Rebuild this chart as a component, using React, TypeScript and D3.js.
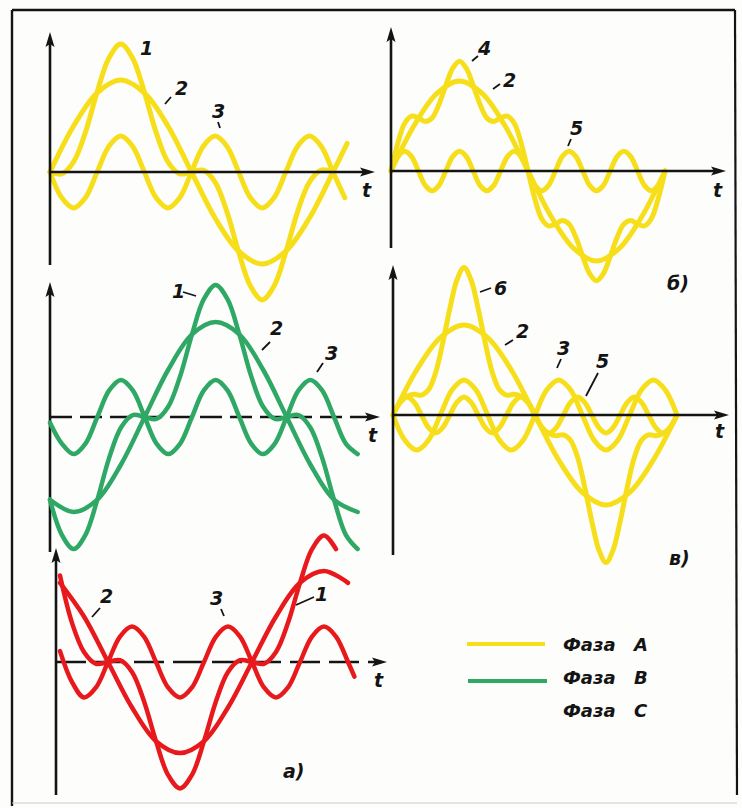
import * as d3 from "d3";

type Pt = [number, number];

const YELLOW = "#f6df1a";
const GREEN = "#2fa865";
const RED = "#e8191c";
const INK = "#141414";

// t in degrees, value in units of the fundamental's amplitude

// а) phase A (top left)
const A_SUM: Pt[] = [
  [0, 0], [15, -0.02], [30, 0.11], [45, 0.43], [60, 0.87], [75, 1.24], [90, 1.39],
  [105, 1.24], [120, 0.87], [135, 0.43], [150, 0.11], [165, -0.02], [180, 0],
  [195, 0.02], [210, -0.11], [225, -0.43], [240, -0.87], [255, -1.24], [270, -1.39],
  [285, -1.24], [300, -0.87], [315, -0.43], [330, -0.11], [345, 0.02], [360, 0],
];
const A_FUND: Pt[] = [
  [0, 0], [30, 0.5], [60, 0.86], [90, 1], [120, 0.86], [150, 0.5], [180, 0],
  [210, -0.5], [240, -0.86], [270, -1], [300, -0.86], [330, -0.5], [360, 0], [378, 0.31],
];
const A_H3: Pt[] = [
  [0, 0], [15, -0.28], [30, -0.39], [45, -0.28], [60, 0], [75, 0.28], [90, 0.39],
  [105, 0.28], [120, 0], [135, -0.28], [150, -0.39], [165, -0.28], [180, 0],
  [195, 0.28], [210, 0.39], [225, 0.28], [240, 0], [255, -0.28], [270, -0.39],
  [285, -0.28], [300, 0], [315, 0.28], [330, 0.39], [345, 0.28], [360, 0], [375, -0.28],
];

// б) fundamental + 5th (top right)
const B_FUND: Pt[] = [
  [0, 0], [30, 0.5], [60, 0.86], [90, 1], [120, 0.86], [150, 0.5], [180, 0],
  [210, -0.5], [240, -0.86], [270, -1], [300, -0.86], [330, -0.5], [360, 0],
];
const B_SUM: Pt[] = [
  [0, 0], [9, 0.31], [18, 0.53], [27, 0.61], [36, 0.59], [45, 0.55], [54, 0.59],
  [63, 0.74], [72, 0.95], [81, 1.14], [90, 1.22], [99, 1.14], [108, 0.95], [117, 0.74],
  [126, 0.59], [135, 0.55], [144, 0.59], [153, 0.61], [162, 0.53], [171, 0.31], [180, 0],
  [189, -0.31], [198, -0.53], [207, -0.61], [216, -0.59], [225, -0.55], [234, -0.59],
  [243, -0.74], [252, -0.95], [261, -1.14], [270, -1.22], [279, -1.14], [288, -0.95],
  [297, -0.74], [306, -0.59], [315, -0.55], [324, -0.59], [333, -0.61], [342, -0.53],
  [351, -0.31], [360, 0],
];
const B_H5: Pt[] = [
  [0, 0], [9, 0.16], [18, 0.22], [27, 0.16], [36, 0], [45, -0.16], [54, -0.22], [63, -0.16],
  [72, 0], [81, 0.16], [90, 0.22], [99, 0.16], [108, 0], [117, -0.16], [126, -0.22], [135, -0.16],
  [144, 0], [153, 0.16], [162, 0.22], [171, 0.16], [180, 0], [189, -0.16], [198, -0.22], [207, -0.16],
  [216, 0], [225, 0.16], [234, 0.22], [243, 0.16], [252, 0], [261, -0.16], [270, -0.22], [279, -0.16],
  [288, 0], [297, 0.16], [306, 0.22], [315, 0.16], [324, 0], [333, -0.16], [342, -0.22], [351, -0.16],
  [360, 0],
];

// в) fundamental + 3rd + 5th (middle right)
const V_FUND: Pt[] = B_FUND;
const V_H3: Pt[] = A_H3.slice(0, 25);
const V_H5: Pt[] = [
  [0, 0], [9, 0.14], [18, 0.2], [27, 0.14], [36, 0], [45, -0.14], [54, -0.2], [63, -0.14],
  [72, 0], [81, 0.14], [90, 0.2], [99, 0.14], [108, 0], [117, -0.14], [126, -0.2], [135, -0.14],
  [144, 0], [153, 0.14], [162, 0.2], [171, 0.14], [180, 0], [189, -0.14], [198, -0.2], [207, -0.14],
  [216, 0], [225, 0.14], [234, 0.2], [243, 0.14], [252, 0], [261, -0.14], [270, -0.2], [279, -0.14],
  [288, 0], [297, 0.14], [306, 0.2], [315, 0.14], [324, 0], [333, -0.14], [342, -0.2], [351, -0.14],
  [360, 0],
];
const V_SUM: Pt[] = [
  [0, 0], [9, 0.14], [18, 0.21], [27, 0.23], [36, 0.22], [45, 0.28], [54, 0.47],
  [63, 0.8], [72, 1.18], [81, 1.5], [90, 1.64], [99, 1.5], [108, 1.18], [117, 0.8],
  [126, 0.47], [135, 0.28], [144, 0.22], [153, 0.23], [162, 0.21], [171, 0.14], [180, 0],
  [189, -0.14], [198, -0.21], [207, -0.23], [216, -0.22], [225, -0.28], [234, -0.47],
  [243, -0.8], [252, -1.18], [261, -1.5], [270, -1.64], [279, -1.5], [288, -1.18],
  [297, -0.8], [306, -0.47], [315, -0.28], [324, -0.22], [333, -0.23], [342, -0.21],
  [351, -0.14], [360, 0],
];

// а) phase B (middle left)
const G_SUM: Pt[] = [
  [0, -0.87], [15, -1.24], [30, -1.39], [45, -1.24], [60, -0.87], [75, -0.43], [90, -0.11],
  [105, 0.02], [120, 0], [135, -0.02], [150, 0.11], [165, 0.43], [180, 0.87], [195, 1.24],
  [210, 1.39], [225, 1.24], [240, 0.87], [255, 0.43], [270, 0.11], [285, -0.02], [300, 0],
  [315, 0.02], [330, -0.11], [345, -0.43], [360, -0.87], [375, -1.24], [390, -1.39],
];
const G_FUND: Pt[] = [
  [0, -0.87], [30, -1], [60, -0.87], [90, -0.5], [120, 0], [150, 0.5], [180, 0.87],
  [210, 1], [240, 0.87], [270, 0.5], [300, 0], [330, -0.5], [360, -0.87], [390, -1],
];
const G_H3: Pt[] = [
  [0, -0.06], [15, -0.28], [30, -0.39], [45, -0.28], [60, 0], [75, 0.28], [90, 0.39],
  [105, 0.28], [120, 0], [135, -0.28], [150, -0.39], [165, -0.28], [180, 0],
  [195, 0.28], [210, 0.39], [225, 0.28], [240, 0], [255, -0.28], [270, -0.39],
  [285, -0.28], [300, 0], [315, 0.28], [330, 0.39], [345, 0.28], [360, 0],
  [375, -0.28], [390, -0.39],
];

// а) phase C (bottom left)
const R_SUM: Pt[] = [
  [0, 0.95], [15, 0.43], [30, 0.11], [45, -0.02], [60, 0], [75, 0.02], [90, -0.11],
  [105, -0.43], [120, -0.87], [135, -1.24], [150, -1.39], [165, -1.24], [180, -0.87],
  [195, -0.43], [210, -0.11], [225, 0.02], [240, 0], [255, -0.02], [270, 0.11],
  [285, 0.43], [300, 0.87], [315, 1.24], [330, 1.39], [345, 1.24],
];
const R_FUND: Pt[] = [
  [0, 0.87], [30, 0.5], [60, 0], [90, -0.5], [120, -0.87], [150, -1], [180, -0.87],
  [210, -0.5], [240, 0], [270, 0.5], [300, 0.87], [330, 1], [360, 0.87],
];
const R_H3: Pt[] = [
  [0, 0.12], [15, -0.22], [30, -0.39], [45, -0.28], [60, 0], [75, 0.28], [90, 0.39],
  [105, 0.28], [120, 0], [135, -0.28], [150, -0.39], [165, -0.28], [180, 0],
  [195, 0.28], [210, 0.39], [225, 0.28], [240, 0], [255, -0.28], [270, -0.39],
  [285, -0.28], [300, 0], [315, 0.28], [330, 0.39], [345, 0.28], [360, 0], [368, -0.16],
];

const LEGEND = ["Фаза", "Фаза", "Фаза"];
const LEGEND_KEYS = ["A", "B", "C"];

type Label = { text: string; x: number; y: number; tick?: [number, number, number, number] };

const FONT = "'DejaVu Sans', sans-serif";

const Waves = ({ x0, x360, y0, amp, color, width, curves }: {
  x0: number; x360: number; y0: number; amp: number; color: string; width: number; curves: Pt[][];
}) => {
  const x = d3.scaleLinear().domain([0, 360]).range([x0, x360]);
  const y = d3.scaleLinear().domain([-1, 1]).range([y0 + amp, y0 - amp]);
  const line = d3
    .line<Pt>()
    .x((d) => x(d[0]))
    .y((d) => y(d[1]))
    .curve(d3.curveCatmullRom.alpha(0.5));
  return (
    <g fill="none" stroke={color} strokeWidth={width} strokeLinecap="round" strokeLinejoin="round">
      {curves.map((c, i) => (
        <path key={i} d={line(c) ?? ""} />
      ))}
    </g>
  );
};

const Axes = ({ x, yTop, yBottom, y, xEnd, dash }: {
  x: number; yTop: number; yBottom: number; y: number; xEnd: number; dash?: string;
}) => (
  <g>
    <line x1={x} y1={yBottom} x2={x} y2={yTop + 10} stroke={INK} strokeWidth={2.6} />
    <path d={`M${x},${yTop} L${x - 4.5},${yTop + 15} L${x},${yTop + 12} L${x + 4.5},${yTop + 15} Z`} fill={INK} />
    <line x1={x} y1={y} x2={xEnd - 10} y2={y} stroke={INK} strokeWidth={2.6} strokeDasharray={dash} />
    <path d={`M${xEnd},${y} L${xEnd - 15},${y - 4.5} L${xEnd - 12},${y} L${xEnd - 15},${y + 4.5} Z`} fill={INK} />
  </g>
);

const Labels = ({ items }: { items: Label[] }) => (
  <g fontFamily={FONT} fontStyle="italic" fontWeight="bold" fontSize={19} fill={INK}>
    {items.map((l, i) => (
      <g key={i}>
        {l.tick && (
          <line x1={l.tick[0]} y1={l.tick[1]} x2={l.tick[2]} y2={l.tick[3]} stroke={INK} strokeWidth={1.8} />
        )}
        <text x={l.x} y={l.y}>{l.text}</text>
      </g>
    ))}
  </g>
);

export default function App() {
  return (
    <svg width={742} height={808} style={{ position: "absolute", left: 0, top: 0, background: "#fff" }}>
      <rect width={742} height={808} fill="#fdfdfb" />
      {/* frame */}
      <line x1={12} y1={10} x2={12} y2={806} stroke={INK} strokeWidth={2.4} />
      <line x1={12} y1={10} x2={735} y2={10} stroke={INK} strokeWidth={2.4} />
      <line x1={735} y1={10} x2={737} y2={795} stroke={INK} strokeWidth={2.2} />
      <line x1={12} y1={803} x2={737} y2={803} stroke="#ccc" strokeWidth={1.2} />

      {/* а) phase A */}
      <Waves x0={50} x360={333} y0={172} amp={92} color={YELLOW} width={5} curves={[A_SUM, A_FUND, A_H3]} />
      <Axes x={50} yTop={32} yBottom={265} y={172} xEnd={375} />
      <Labels
        items={[
          { text: "1", x: 140, y: 55 },
          { text: "2", x: 175, y: 95, tick: [165, 104, 171, 97] },
          { text: "3", x: 212, y: 118, tick: [218, 122, 220, 128] },
          { text: "t", x: 362, y: 197 },
        ]}
      />

      {/* б) */}
      <Waves x0={391} x360={665} y0={171} amp={90} color={YELLOW} width={5} curves={[B_SUM, B_FUND, B_H5]} />
      <Axes x={391} yTop={27} yBottom={248} y={171} xEnd={726} />
      <Labels
        items={[
          { text: "4", x: 478, y: 55, tick: [472, 61, 478, 56] },
          { text: "2", x: 503, y: 87, tick: [493, 89, 500, 84] },
          { text: "5", x: 570, y: 135, tick: [571, 139, 568, 146] },
          { text: "t", x: 713, y: 197 },
          { text: "б)", x: 667, y: 290 },
        ]}
      />

      {/* в) */}
      <Waves x0={393} x360={677} y0={415} amp={90} color={YELLOW} width={5} curves={[V_SUM, V_FUND, V_H3, V_H5]} />
      <Axes x={393} yTop={265} yBottom={555} y={415} xEnd={729} />
      <Labels
        items={[
          { text: "6", x: 494, y: 295, tick: [480, 292, 491, 288] },
          { text: "2", x: 516, y: 338, tick: [505, 345, 513, 340] },
          { text: "3", x: 557, y: 355, tick: [561, 359, 557, 368] },
          { text: "5", x: 596, y: 368, tick: [598, 373, 586, 396] },
          { text: "t", x: 715, y: 438 },
          { text: "в)", x: 669, y: 565 },
        ]}
      />

      {/* а) phase B */}
      <Axes x={50} yTop={282} yBottom={552} y={417} xEnd={380} dash="22 8" />
      <Waves x0={50} x360={334} y0={417} amp={95} color={GREEN} width={4.5} curves={[G_SUM, G_FUND, G_H3]} />
      <Labels
        items={[
          { text: "1", x: 172, y: 298, tick: [183, 292, 196, 296] },
          { text: "2", x: 270, y: 335, tick: [262, 350, 270, 342] },
          { text: "3", x: 325, y: 360, tick: [317, 372, 323, 363] },
          { text: "t", x: 368, y: 442 },
        ]}
      />

      {/* а) phase C */}
      <Axes x={56} yTop={548} yBottom={795} y={662} xEnd={387} dash="30 9" />
      <Waves x0={60} x360={348} y0={662} amp={91} color={RED} width={4.5} curves={[R_SUM, R_FUND, R_H3]} />
      <Labels
        items={[
          { text: "2", x: 100, y: 603, tick: [92, 617, 100, 608] },
          { text: "3", x: 210, y: 605, tick: [221, 609, 224, 616] },
          { text: "1", x: 315, y: 601, tick: [296, 605, 314, 597] },
          { text: "t", x: 374, y: 687 },
          { text: "а)", x: 283, y: 778 },
        ]}
      />

      {/* legend */}
      <line x1={467} y1={644} x2={545} y2={644} stroke={YELLOW} strokeWidth={4} />
      <line x1={468} y1={681} x2={547} y2={681} stroke={GREEN} strokeWidth={4} />
      <g fontFamily={FONT} fontStyle="italic" fontWeight="bold" fontSize={18} fill={INK}>
        {LEGEND.map((w, i) => (
          <g key={i}>
            <text x={563} y={651 + i * 33}>{w}</text>
            <text x={634} y={651 + i * 33}>{LEGEND_KEYS[i]}</text>
          </g>
        ))}
      </g>
    </svg>
  );
}
